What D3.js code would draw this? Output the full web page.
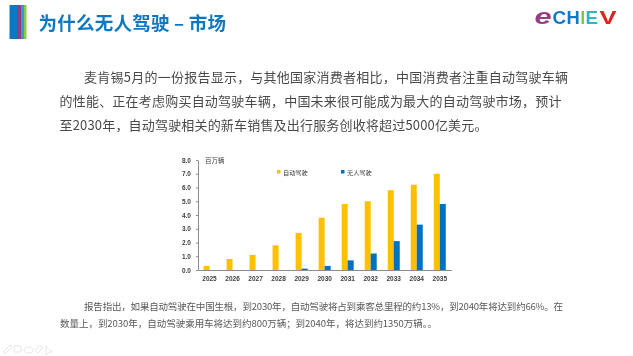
<!DOCTYPE html>
<html lang="zh">

<head>
  <meta charset="utf-8">
  <title>为什么无人驾驶 – 市场</title>
  <script src="https://d3js.org/d3.v7.min.js"></script>
  <style>
    html, body {
      margin: 0;
      padding: 0;
      background: #fff;
      overflow: hidden;
    }

    svg {
      display: block;
    }

    text {
      font-family: "Noto Sans CJK SC", sans-serif;
    }

    .chart text {
      fill: #404040;
    }

    .num text {
      font-family: "Liberation Sans", sans-serif;
      font-size: 6.5px;
      font-weight: bold;
    }
  </style>
</head>

<body>
  <svg id="svg" width="633" height="356"></svg>
  <script type="text/javascript">

    var years = ['2025', '2026', '2027', '2028', '2029', '2030', '2031', '2032', '2033', '2034', '2035'];
    var autoSales = [0.3, 0.8, 1.1, 1.8, 2.7, 3.8, 4.8, 5.0, 5.8, 6.2, 7.0];
    var driverlessSales = [0, 0, 0, 0, 0.1, 0.3, 0.7, 1.2, 2.1, 3.3, 4.8];
    var yTicks = [0, 1, 2, 3, 4, 5, 6, 7, 8];
    var seriesNames = ['自动驾驶', '无人驾驶'];
    var seriesColors = ['#ffc000', '#0070c0'];
    var unitLabel = '百万辆';

    var bodyLines = [
      '麦肯锡5月的一份报告显示，与其他国家消费者相比，中国消费者注重自动驾驶车辆',
      '的性能、正在考虑购买自动驾驶车辆，中国未来很可能成为最大的自动驾驶市场，预计',
      '至2030年，自动驾驶相关的新车销售及出行服务创收将超过5000亿美元。'
    ];
    var noteLines = [
      '报告指出，如果自动驾驶在中国生根，到2030年，自动驾驶将占到乘客总里程的约13%，到2040年将达到约66%。在',
      '数量上，到2030年，自动驾驶乘用车将达到约800万辆；到2040年，将达到约1350万辆。。'
    ];

    var svg = d3.select('#svg');
    var defs = svg.append('defs');
    defs.append('filter').attr('id', 'soft')
      .append('feGaussianBlur').attr('stdDeviation', 0.4);
    defs.append('filter').attr('id', 'softer')
      .append('feGaussianBlur').attr('stdDeviation', 0.3);

    function buildHeader() { // 标题和左侧色条
      var stripes = [[9.5, 7.5, '#0b78c4'], [17, 4, '#8b3f87'], [21, 3, '#2f9fc4'], [24, 2.5, '#8ccb3c']];
      svg.append('g').selectAll('rect')
        .data(stripes)
        .enter()
        .append('rect')
        .attr('x', d => d[0])
        .attr('y', 5)
        .attr('width', d => d[1])
        .attr('height', 34)
        .attr('fill', d => d[2]);

      svg.append('text')
        .attr('x', 38.5)
        .attr('y', 30)
        .attr('font-size', 18.5)
        .attr('font-weight', 700)
        .attr('fill', '#0f78c0')
        .attr('textLength', 187.5)
        .attr('filter', 'url(#softer)')
        .text('为什么无人驾驶 – 市场');
    }

    function buildLogo() {
      // letter, x, horizontal stretch, colour
      var letters = [
        ['e', 534.5, 1.4, '#94407f'],
        ['C', 552.5, 1.05, '#1478c4'],
        ['H', 566.5, 1.02, '#1478c4'],
        ['I', 580.5, 0.9, '#7cc243'],
        ['E', 585.5, 1.05, '#35b3c4'],
        ['V', 599.5, 1.42, '#e2231a']
      ];
      svg.append('g')
        .attr('filter', 'url(#softer)')
        .selectAll('text')
        .data(letters)
        .enter()
        .append('text')
        .attr('transform', d => `translate(${d[1]},23.5) scale(${d[2]},1)`)
        .attr('font-size', (d, i) => i == 0 ? 22 : 18)
        .attr('font-style', (d, i) => i == 0 ? 'italic' : 'normal')
        .attr('font-weight', 700)
        .attr('fill', d => d[3])
        .style('font-family', '"Liberation Sans", sans-serif')
        .text(d => d[0]);
    }

    function buildText() {
      var lineX = [84, 59.5, 59.5];
      var lineW = [484, 502, 428];
      svg.append('g').attr('filter', 'url(#softer)').selectAll('text')
        .data(bodyLines)
        .enter()
        .append('text')
        .attr('x', (d, i) => lineX[i])
        .attr('y', (d, i) => 82.1 + i * 24)
        .attr('font-size', 13)
        .attr('textLength', (d, i) => lineW[i])
        .attr('lengthAdjust', 'spacing')
        .attr('fill', '#4a4a4a')
        .text(d => d);

      var noteX = [84, 60];
      var noteW = [479, 377];
      svg.append('g').attr('filter', 'url(#soft)').selectAll('text')
        .data(noteLines)
        .enter()
        .append('text')
        .attr('x', (d, i) => noteX[i])
        .attr('y', (d, i) => 310 + i * 16.5)
        .attr('font-size', 9.5)
        .attr('textLength', (d, i) => noteW[i])
        .attr('lengthAdjust', 'spacing')
        .attr('fill', '#595959')
        .text(d => d);
    }

    function buildChart() { // 柱状图
      var x = d3.scaleBand().domain(years).range([198, 451.3]);
      var inner = d3.scaleBand().domain(seriesNames).range([0, 12]);
      var y = d3.scaleLinear().domain([0, 8]).range([270, 160]);

      var g = svg.append('g').attr('class', 'chart').attr('filter', 'url(#soft)');

      var series = [autoSales, driverlessSales];
      series.forEach((values, s) => {
        g.append('g').selectAll('rect')
          .data(values)
          .enter()
          .append('rect')
          .attr('x', (d, i) => x(years[i]) + x.bandwidth() / 2 - 6 + inner(seriesNames[s]))
          .attr('y', d => y(d))
          .attr('width', inner.bandwidth())
          .attr('height', d => y(0) - y(d))
          .attr('fill', seriesColors[s]);
      });

      var xAxis = g.append('g')
        .attr('class', 'num')
        .attr('transform', 'translate(0,270)')
        .call(d3.axisBottom(x).tickSize(0).tickPadding(6));
      xAxis.select('.domain').attr('stroke', '#8c8c8c');
      xAxis.selectAll('text').attr('fill', '#404040');

      var yAxis = g.append('g')
        .attr('class', 'num')
        .attr('transform', 'translate(198,0)')
        .call(d3.axisLeft(y).tickValues(yTicks).tickFormat(d3.format('.1f')).tickSize(2).tickSizeOuter(0).tickPadding(5));
      yAxis.select('.domain').attr('stroke', '#8c8c8c');
      yAxis.selectAll('line').attr('stroke', '#8c8c8c');
      yAxis.selectAll('text').attr('fill', '#404040');

      g.append('text')
        .attr('x', 205)
        .attr('y', 162.5)
        .attr('font-size', 6.5)
        .text(unitLabel);

      var legendX = d3.scaleOrdinal().domain(seriesNames).range([277, 341]);
      var legend = g.append('g').selectAll('g')
        .data(seriesNames)
        .enter()
        .append('g')
        .attr('transform', d => `translate(${legendX(d)},170)`);
      legend.append('rect')
        .attr('width', 3.5)
        .attr('height', 3.5)
        .attr('fill', (d, i) => seriesColors[i]);
      legend.append('text')
        .attr('x', 6)
        .attr('y', 4.5)
        .attr('font-size', 6.2)
        .text(d => d);
    }

    function buildIcons() { // 左下角工具图标
      var icons = [
        'M3 352 L10 345 L12 347 L5 354 Z',
        'M14 346 H21 V352 H14 Z',
        'M24 350 a4.5 3 0 1 0 9 0 a4.5 3 0 1 0 -9 0',
        'M35 350 L40 345 L43 348 L38 353 Z',
        'M46 346 L46 355 L49 352 L52 352 Z'
      ];
      svg.append('g').attr('filter', 'url(#softer)').selectAll('path')
        .data(icons)
        .enter()
        .append('path')
        .attr('d', d => d)
        .attr('fill', 'none')
        .attr('stroke', '#e0e0e0')
        .attr('stroke-width', 0.8);
    }

    buildHeader();
    buildLogo();
    buildText();
    buildChart();
    buildIcons();
  </script>
</body>

</html>
